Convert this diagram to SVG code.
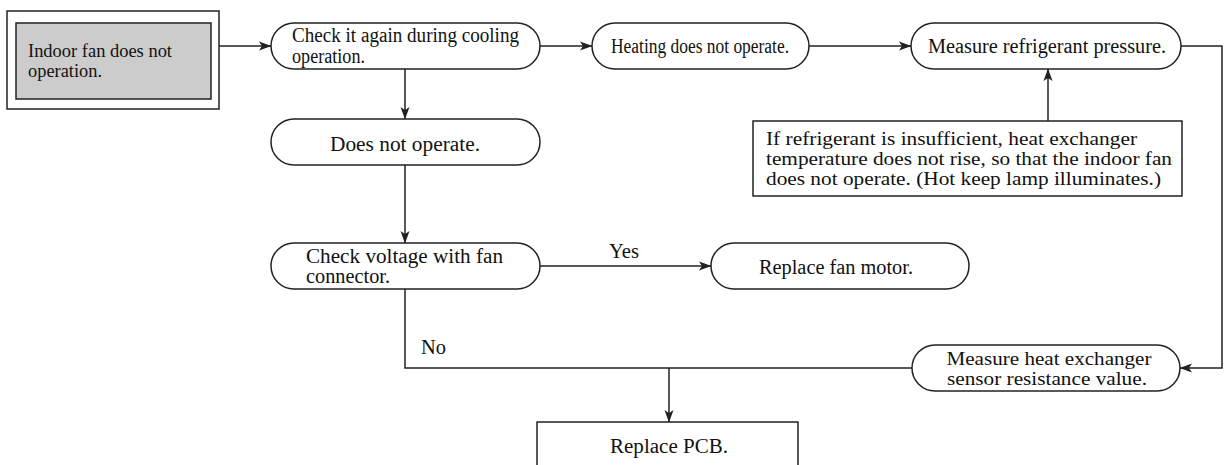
<svg xmlns="http://www.w3.org/2000/svg" width="1224" height="465" viewBox="0 0 1224 465">
  <style>
    .box { fill: #ffffff; stroke: #222222; stroke-width: 1.5; }
    .start { fill: #cccccc; stroke: #222222; stroke-width: 1.5; }
    .wire { fill: none; stroke: #222222; stroke-width: 1.5; }
    .t { font-family: "Liberation Serif", "Times New Roman", serif; font-size: 20px; fill: #111111; }
    .s { font-size: 19px; }
    .c { text-anchor: middle; }
  </style>
  <defs>
    <marker id="arrow" markerWidth="14" markerHeight="10" refX="12" refY="5" orient="auto" markerUnits="userSpaceOnUse">
      <path d="M0,0.5 L12.5,5 L0,9.5 L3,5 z" fill="#222222"/>
    </marker>
  </defs>

  <!-- connectors and branch labels -->
  <g id="connectors">
    <line class="wire" x1="219" y1="46" x2="271" y2="46" marker-end="url(#arrow)"/>
    <line class="wire" x1="540" y1="46" x2="592" y2="46" marker-end="url(#arrow)"/>
    <line class="wire" x1="809" y1="46" x2="911" y2="46" marker-end="url(#arrow)"/>
    <polyline class="wire" points="1181,46 1222,46 1222,368 1180,368" marker-end="url(#arrow)"/>
    <line class="wire" x1="1048" y1="121" x2="1048" y2="69" marker-end="url(#arrow)"/>
    <line class="wire" x1="405" y1="69" x2="405" y2="119" marker-end="url(#arrow)"/>
    <line class="wire" x1="405" y1="165" x2="405" y2="243" marker-end="url(#arrow)"/>
    <line class="wire" x1="540" y1="266" x2="711" y2="266" marker-end="url(#arrow)"/>
    <polyline class="wire" points="405,289 405,368 912,368"/>
    <line class="wire" x1="669" y1="368" x2="669" y2="422" marker-end="url(#arrow)"/>
    <text class="t" x="609" y="258" textLength="30" lengthAdjust="spacingAndGlyphs">Yes</text>
    <text class="t" x="421" y="354" textLength="25" lengthAdjust="spacingAndGlyphs">No</text>
  </g>

  <g id="n-start">
    <rect class="box" x="7" y="11" width="212" height="98"/>
    <rect class="start" x="16" y="23" width="195" height="76"/>
    <text class="t" x="28" y="57" style="font-size:18px" textLength="144" lengthAdjust="spacingAndGlyphs">Indoor fan does not</text>
    <text class="t" x="28" y="77" style="font-size:18px" textLength="74" lengthAdjust="spacingAndGlyphs">operation.</text>
  </g>

  <g id="n-cooling">
    <rect class="box" x="271" y="23" width="269" height="46" rx="23"/>
    <text class="t" x="292" y="42" textLength="227" lengthAdjust="spacingAndGlyphs">Check it again during cooling</text>
    <text class="t" x="292" y="63" textLength="73" lengthAdjust="spacingAndGlyphs">operation.</text>
  </g>

  <g id="n-heating">
    <rect class="box" x="592" y="23" width="217" height="46" rx="23"/>
    <text class="t c" x="700" y="53" textLength="178" lengthAdjust="spacingAndGlyphs">Heating does not operate.</text>
  </g>

  <g id="n-pressure">
    <rect class="box" x="911" y="23" width="270" height="46" rx="23"/>
    <text class="t c" x="1047" y="53" textLength="238" lengthAdjust="spacingAndGlyphs">Measure refrigerant pressure.</text>
  </g>

  <g id="n-note">
    <rect class="box" x="753" y="121" width="429" height="75"/>
    <text class="t s" x="766" y="145" textLength="371" lengthAdjust="spacingAndGlyphs">If refrigerant is insufficient, heat exchanger</text>
    <text class="t s" x="766" y="165" textLength="406" lengthAdjust="spacingAndGlyphs">temperature does not rise, so that the indoor fan</text>
    <text class="t s" x="766" y="185" textLength="395" lengthAdjust="spacingAndGlyphs">does not operate. (Hot keep lamp illuminates.)</text>
  </g>

  <g id="n-no-operate">
    <rect class="box" x="271" y="119" width="269" height="46" rx="23"/>
    <text class="t c" x="405" y="151" textLength="150" lengthAdjust="spacingAndGlyphs">Does not operate.</text>
  </g>

  <g id="n-voltage">
    <rect class="box" x="271" y="243" width="269" height="46" rx="23"/>
    <text class="t" x="306" y="263" textLength="197" lengthAdjust="spacingAndGlyphs">Check voltage with fan</text>
    <text class="t" x="306" y="283" textLength="84" lengthAdjust="spacingAndGlyphs">connector.</text>
  </g>

  <g id="n-fan-motor">
    <rect class="box" x="711" y="243" width="258" height="46" rx="23"/>
    <text class="t c" x="836" y="274" textLength="154" lengthAdjust="spacingAndGlyphs">Replace fan motor.</text>
  </g>

  <g id="n-sensor">
    <rect class="box" x="912" y="345" width="268" height="46" rx="23"/>
    <text class="t s c" x="1049" y="365" textLength="205" lengthAdjust="spacingAndGlyphs">Measure heat exchanger</text>
    <text class="t s c" x="1047" y="385" textLength="200" lengthAdjust="spacingAndGlyphs">sensor resistance value.</text>
  </g>

  <g id="n-pcb">
    <path class="box" d="M537,467 L537,422 L798,422 L798,467"/>
    <text class="t c" x="669" y="453" textLength="118" lengthAdjust="spacingAndGlyphs">Replace PCB.</text>
  </g>
</svg>
